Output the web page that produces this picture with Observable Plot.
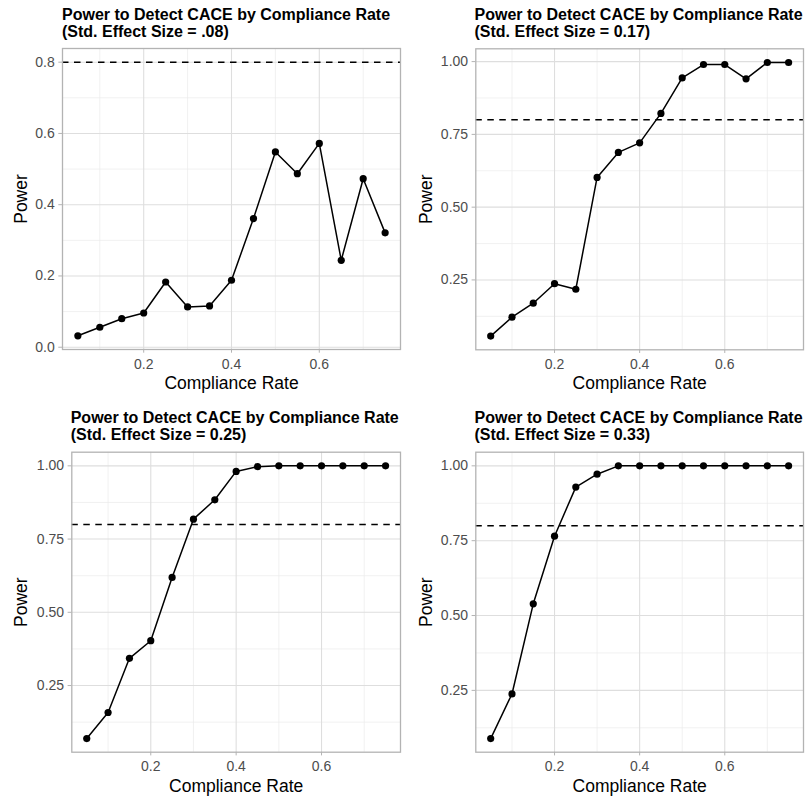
<!DOCTYPE html>
<html><head><meta charset="utf-8">
<script src="https://cdn.jsdelivr.net/npm/d3@7"></script>
<script src="https://cdn.jsdelivr.net/npm/@observablehq/plot@0.6"></script>
<style>
body{margin:0;background:#fff;}
#root{position:relative;width:807px;height:796px;overflow:hidden;font-family:"Liberation Sans",Arial,sans-serif;background:#fff;}
.title{position:absolute;font-weight:bold;font-size:16px;line-height:17px;color:#000;white-space:nowrap;}
.plot{position:absolute;}
</style></head><body><div id="root"></div>
<script>
// ---- data ----
const compliance = [0.05,0.10,0.15,0.20,0.25,0.30,0.35,0.40,0.45,0.50,0.55,0.60,0.65,0.70,0.75];
const power08 = [0.032,0.056,0.080,0.096,0.183,0.113,0.116,0.188,0.361,0.548,0.487,0.572,0.244,0.473,0.321];
const power17 = [0.057,0.122,0.170,0.237,0.218,0.602,0.688,0.721,0.822,0.944,0.990,0.990,0.941,0.997,0.997];
const power25 = [0.069,0.158,0.343,0.403,0.619,0.818,0.884,0.981,0.997,1.000,1.000,1.000,1.000,1.000,1.000];
const power33 = [0.089,0.238,0.539,0.765,0.929,0.972,1.000,1.000,1.000,1.000,1.000,1.000,1.000,1.000,1.000];
const titleLine1 = "Power to Detect CACE by Compliance Rate";
const effectLabels = ["(Std. Effect Size = .08)","(Std. Effect Size = 0.17)","(Std. Effect Size = 0.25)","(Std. Effect Size = 0.33)"];
const threshold = 0.8;
const xLabel = "Compliance Rate";
const yLabel = "Power";
const xTicks = [0.2,0.4,0.6];
const xMinor = [0.1,0.3,0.5,0.7];
const yTicksA = [0,0.2,0.4,0.6,0.8];
const yMinorA = [0.1,0.3,0.5,0.7];
const yTicksB = [0.25,0.5,0.75,1.0];
const yMinorB = [0.125,0.375,0.625,0.875];

// ---- layout ----
const panels = [
  {series: power08, yTicks: yTicksA, yMinor: yMinorA, fmt: d3.format(".1f"),
   left: 0, top: 40, width: 403, height: 360, mt: 8, mr: 3, mb: 51, ml: 62, titleLeft: 62, titleTop: 5.5, ydx: -41.6},
  {series: power17, yTicks: yTicksB, yMinor: yMinorB, fmt: d3.format(".2f"),
   left: 403, top: 40, width: 404, height: 360, mt: 8.3, mr: 4, mb: 50.7, ml: 72.3, titleLeft: 474.5, titleTop: 5.5, ydx: -49.6},
  {series: power25, yTicks: yTicksB, yMinor: yMinorB, fmt: d3.format(".2f"),
   left: 0, top: 443, width: 403, height: 353, mt: 8.7, mr: 3, mb: 44.3, ml: 71.3, titleLeft: 70.7, titleTop: 409.2, ydx: -50.3},
  {series: power33, yTicks: yTicksB, yMinor: yMinorB, fmt: d3.format(".2f"),
   left: 403, top: 443, width: 404, height: 353, mt: 8.7, mr: 4, mb: 44.3, ml: 72.3, titleLeft: 474.5, titleTop: 409.2, ydx: -49.3}
];

function expand(lo, hi) { const e = (hi - lo) * 0.05; return [lo - e, hi + e]; }

const root = document.getElementById("root");
panels.forEach((p, i) => {
  const rows = compliance.map((c, j) => ({x: c, y: p.series[j]}));
  const xDom = expand(d3.min(compliance), d3.max(compliance));
  const yDom = expand(Math.min(d3.min(p.series), threshold), Math.max(d3.max(p.series), threshold));
  const chart = Plot.plot({
    width: p.width, height: p.height,
    marginTop: p.mt, marginRight: p.mr, marginBottom: p.mb, marginLeft: p.ml,
    style: {fontFamily: '"Liberation Sans", Arial, sans-serif', fontSize: "14px", background: "transparent", overflow: "visible"},
    x: {domain: xDom},
    y: {domain: yDom},
    marks: [
      Plot.gridX(xMinor, {stroke: "#ebebeb", strokeOpacity: 1, strokeWidth: 0.7}),
      Plot.gridY(p.yMinor, {stroke: "#ebebeb", strokeOpacity: 1, strokeWidth: 0.7}),
      Plot.gridX(xTicks, {stroke: "#dedede", strokeOpacity: 1, strokeWidth: 1.1}),
      Plot.gridY(p.yTicks, {stroke: "#dedede", strokeOpacity: 1, strokeWidth: 1.1}),
      Plot.axisX(xTicks, {tickSize: 3.7, tickPadding: 5.6, stroke: "#b3b3b3", fill: "#4d4d4d", fontSize: 14, tickFormat: d3.format(".1f"), label: null}),
      Plot.axisY(p.yTicks, {tickSize: 3.7, tickPadding: 4, stroke: "#b3b3b3", fill: "#4d4d4d", fontSize: 14, tickFormat: p.fmt, label: null}),
      Plot.ruleY([threshold], {stroke: "#000", strokeWidth: 1.5, strokeDasharray: "6.5,5.5"}),
      Plot.line(rows, {x: "x", y: "y", stroke: "#000", strokeWidth: 1.5}),
      Plot.dot(rows, {x: "x", y: "y", fill: "#000", r: 3.6}),
      Plot.frame({stroke: "#b3b3b3", strokeWidth: 1.3}),
      Plot.text([xLabel], {frameAnchor: "bottom", dy: 34, fontSize: 17.5, fill: "#000", lineAnchor: "middle", textAnchor: "middle"}),
      Plot.text([yLabel], {frameAnchor: "left", dx: p.ydx, rotate: -90, fontSize: 17.5, fill: "#000", lineAnchor: "middle", textAnchor: "middle"})
    ]
  });
  chart.classList.add("plot");
  chart.style.left = p.left + "px";
  chart.style.top = p.top + "px";
  root.appendChild(chart);
  const t = document.createElement("div");
  t.className = "title";
  t.style.left = p.titleLeft + "px";
  t.style.top = p.titleTop + "px";
  t.appendChild(document.createTextNode(titleLine1));
  t.appendChild(document.createElement("br"));
  t.appendChild(document.createTextNode(effectLabels[i]));
  root.appendChild(t);
});
</script>
</body></html>
